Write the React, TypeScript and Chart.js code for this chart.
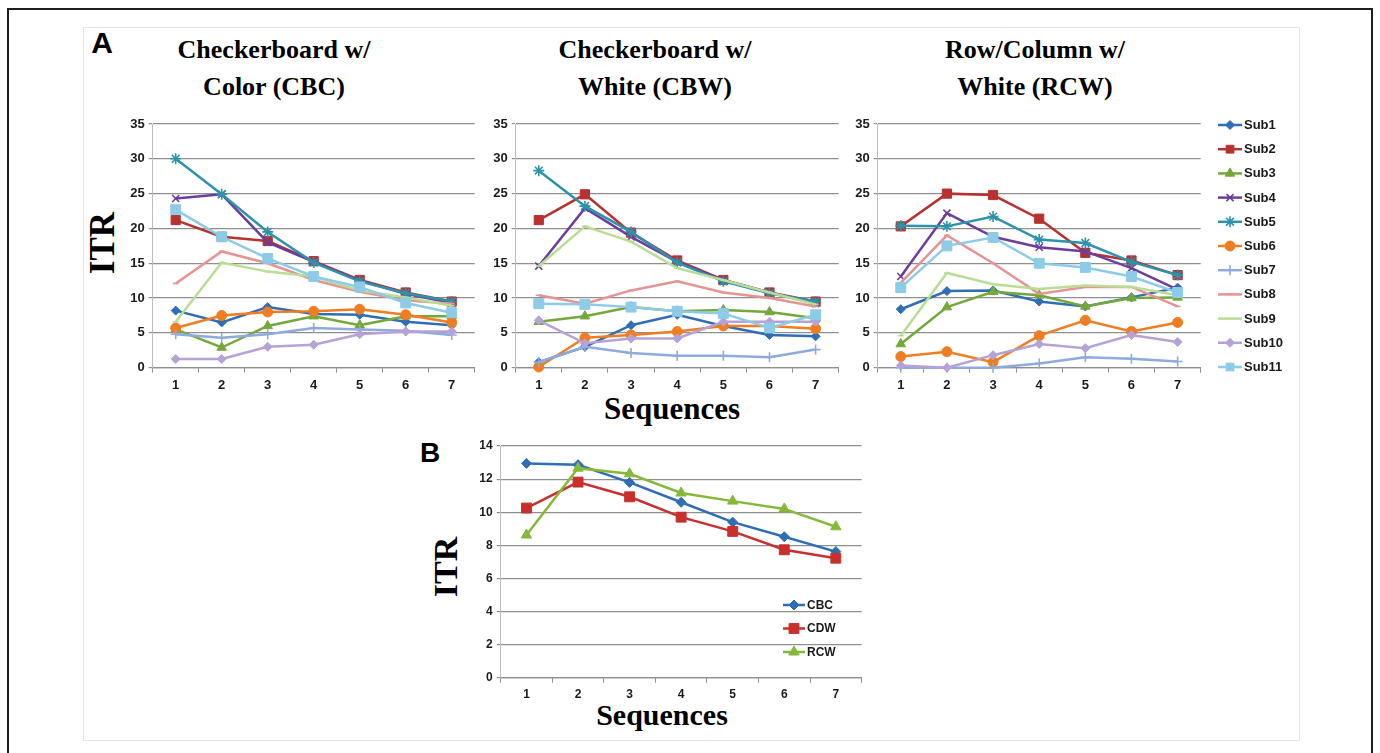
import React, { useEffect, useRef } from 'react';
import { Chart, registerables } from 'chart.js';
import { drawPoint } from 'chart.js/helpers';

Chart.register(...registerables);
Chart.defaults.font.family = "'Liberation Sans', Arial, sans-serif";

// ---------- data ----------
const sequences = ['1', '2', '3', '4', '5', '6', '7'];
const subjects = ['Sub1', 'Sub2', 'Sub3', 'Sub4', 'Sub5', 'Sub6', 'Sub7', 'Sub8', 'Sub9', 'Sub10', 'Sub11'];
const subjectColors = ['#2F6DB5', '#B8312F', '#73A83A', '#6B3E9B', '#2C93AC', '#EF7D22', '#8FAADC', '#E59494', '#B9DD92', '#B6A2D6', '#8DCBE6'];
const subjectMarkers = ['rectRot', 'rect', 'triangle', 'crossRot', 'star', 'circle', 'cross', 'line', 'line', 'rectRot', 'rect'];
const subjectMarkerSizes = [4.5, 6.5, 5.5, 5, 5.5, 5, 5, 3, 3, 4.5, 7];

// ITR per subject (rows Sub1..Sub11), Checkerboard w/ Color
const cbcITR = [
  [8.2, 6.5, 8.7, 7.7, 7.6, 6.6, 6.1],
  [21.2, 18.8, 18.2, 15.3, 12.6, 10.8, 9.5],
  [5.5, 2.9, 6.0, 7.4, 6.1, 7.4, 7.4],
  [24.3, 24.9, 18.0, 15.2, 12.5, 10.6, 9.3],
  [30.0, 24.9, 19.5, 15.1, 12.4, 10.7, 9.5],
  [5.7, 7.5, 8.0, 8.1, 8.4, 7.6, 6.5],
  [4.8, 4.3, 4.8, 5.7, 5.5, 5.3, 4.7],
  [12.1, 16.7, 15.0, 12.6, 10.9, 9.7, 9.2],
  [6.6, 15.1, 13.8, 13.1, 11.1, 10.1, 8.9],
  [1.25, 1.25, 3.0, 3.3, 4.8, 5.2, 5.2],
  [22.7, 18.8, 15.7, 13.1, 11.6, 9.3, 7.9],
];
// Checkerboard w/ White
const cbwITR = [
  [0.8, 3.0, 6.1, 7.6, 6.0, 4.7, 4.5],
  [21.2, 24.9, 19.4, 15.4, 12.6, 10.8, 9.5],
  [6.6, 7.4, 8.7, 8.1, 8.3, 8.0, 7.1],
  [14.6, 22.9, 18.8, 15.2, 12.6, 10.8, 9.2],
  [28.3, 23.2, 19.5, 15.1, 12.4, 10.7, 9.5],
  [0.1, 4.3, 4.7, 5.2, 6.0, 6.0, 5.6],
  [0.8, 3.0, 2.1, 1.7, 1.7, 1.5, 2.6],
  [10.4, 9.2, 11.1, 12.4, 10.8, 10.0, 8.8],
  [14.6, 20.3, 18.1, 14.3, 12.6, 10.8, 9.1],
  [6.8, 3.5, 4.2, 4.2, 6.6, 6.6, 6.6],
  [9.2, 9.1, 8.7, 8.1, 7.8, 5.7, 7.6],
];
// Row/Column w/ White
const rcwITR = [
  [8.4, 11.0, 11.1, 9.5, 8.8, 10.1, 11.5],
  [20.3, 25.0, 24.8, 21.4, 16.5, 15.4, 13.3],
  [3.4, 8.7, 10.9, 10.4, 8.8, 10.0, 10.1],
  [13.1, 22.2, 18.8, 17.3, 16.7, 14.3, 11.2],
  [20.4, 20.3, 21.7, 18.4, 17.9, 15.2, 13.3],
  [1.6, 2.3, 0.8, 4.6, 6.8, 5.2, 6.5],
  [0, 0, 0, 0.6, 1.5, 1.3, 0.9],
  [12.2, 19.0, 15.0, 10.6, 11.6, 11.6, 8.8],
  [4.6, 13.6, 12.0, 11.3, 11.8, 11.6, 10.4],
  [0.3, 0, 1.8, 3.4, 2.8, 4.7, 3.7],
  [11.5, 17.5, 18.7, 15.0, 14.4, 13.1, 10.8],
];

// Panel B averages
const averageLabels = ['CBC', 'CDW', 'RCW'];
const averageColors = ['#2F6DB5', '#C8302E', '#86B83A'];
const averageMarkers = ['rectRot', 'rect', 'triangle'];
const averageMarkerSizes = [5, 7, 6];
const cbcAverage = [12.95, 12.87, 11.8, 10.6, 9.4, 8.52, 7.62];
const cdwAverage = [10.25, 11.82, 10.93, 9.7, 8.84, 7.73, 7.22];
const rcwAverage = [8.62, 12.66, 12.32, 11.16, 10.67, 10.2, 9.12];

const panelAYTicks = { max: 35, step: 5 };
const panelBYTicks = { max: 14, step: 2 };

// ---------- helpers ----------
const GRID = '#8f8f8f';
const TICK_COLOR = '#1a1a1a';

const legendPlugin = {
  id: 'sideLegend',
  afterDraw(chart: any, _args: any, opts: any) {
    if (!opts || !opts.show) return;
    const ctx = chart.ctx;
    ctx.save();
    chart.data.datasets.forEach((ds: any, i: number) => {
      const y = opts.y + i * opts.dy;
      ctx.strokeStyle = ds.borderColor;
      ctx.fillStyle = ds.borderColor;
      ctx.lineWidth = ds.borderWidth;
      ctx.beginPath();
      ctx.moveTo(opts.x, y);
      ctx.lineTo(opts.x + opts.len, y);
      ctx.stroke();
      ctx.lineWidth = ds.pointBorderWidth || 1;
      const r = Math.min(ds.pointRadius, opts.maxMarker || 99);
      drawPoint(ctx, { pointStyle: ds.pointStyle, radius: r, borderWidth: ds.pointBorderWidth || 1, rotation: 0 } as any, opts.x + opts.len / 2, y);
      ctx.fillStyle = TICK_COLOR;
      ctx.font = `bold ${opts.fontSize}px 'Liberation Sans', Arial, sans-serif`;
      ctx.textBaseline = 'middle';
      ctx.textAlign = 'left';
      ctx.fillText(ds.label, opts.x + opts.len + 2, y + 0.5);
    });
    ctx.restore();
  },
};

function makeDatasets(rows: number[][], labels: string[], colors: string[], markers: string[], sizes: number[]) {
  const n = rows.length;
  return rows.map((row, i) => ({
    label: labels[i],
    data: row,
    borderColor: colors[i],
    backgroundColor: colors[i],
    borderWidth: 2.5,
    pointStyle: markers[i],
    pointRadius: sizes[i],
    pointHoverRadius: sizes[i],
    pointBackgroundColor: colors[i],
    pointBorderColor: colors[i],
    pointBorderWidth: markers[i] === 'cross' || markers[i] === 'crossRot' || markers[i] === 'star' || markers[i] === 'line' ? 1.6 : 1,
    tension: 0,
    clip: false as any,
    order: n - i,
  }));
}

type PanelProps = {
  left: number; top: number; width: number; height: number;
  area: { left: number; top: number; right: number; bottom: number };
  datasets: any[];
  yMax: number; yStep: number;
  tickSize: number;
  legend?: { x: number; y: number; dy: number; len: number; fontSize: number; maxMarker?: number };
};

function Panel(p: PanelProps) {
  const ref = useRef<HTMLCanvasElement>(null);
  useEffect(() => {
    if (!ref.current) return;
    const tickFont = { size: p.tickSize, weight: 'bold' as const, family: "'Liberation Sans', Arial, sans-serif" };
    const chart = new Chart(ref.current, {
      type: 'line',
      data: { labels: sequences, datasets: p.datasets },
      plugins: [legendPlugin],
      options: {
        responsive: false,
        animation: false,
        events: [],
        layout: { padding: { left: 0, top: p.area.top, right: p.width - p.area.right, bottom: 0 } },
        plugins: {
          legend: { display: false },
          tooltip: { enabled: false },
          title: { display: false },
          sideLegend: p.legend ? { show: true, ...p.legend } : { show: false },
        } as any,
        scales: {
          x: {
            type: 'category',
            offset: true,
            grid: { display: true, drawOnChartArea: false, drawTicks: true, tickLength: 5, offset: true, color: GRID, lineWidth: 1 },
            border: { display: true, color: GRID, width: 1.2 },
            ticks: { font: tickFont, color: TICK_COLOR, padding: 5, maxRotation: 0, autoSkip: false },
            afterFit: (s: any) => { s.height = p.height - p.area.bottom; },
          },
          y: {
            min: 0,
            max: p.yMax,
            grid: { color: GRID, lineWidth: 1.2, drawTicks: true, tickLength: 4 },
            border: { display: true, color: '#bdbdbd', width: 1 },
            ticks: { stepSize: p.yStep, font: tickFont, color: TICK_COLOR, padding: 4 },
            afterFit: (s: any) => { s.width = p.area.left; },
          },
        },
      } as any,
    });
    return () => chart.destroy();
  }, []);
  return (
    <canvas
      ref={ref}
      width={p.width}
      height={p.height}
      style={{ position: 'absolute', left: p.left, top: p.top, width: p.width, height: p.height }}
    />
  );
}

const serif = "'Liberation Serif', 'Times New Roman', serif";
const sans = "'Liberation Sans', Arial, sans-serif";

function Txt(props: { x: number; y: number; size: number; family: string; rotate?: boolean; children: React.ReactNode }) {
  return (
    <div
      style={{
        position: 'absolute',
        left: props.x,
        top: props.y,
        transform: `translate(-50%, -50%)${props.rotate ? ' rotate(-90deg)' : ''}`,
        fontFamily: props.family,
        fontWeight: 'bold',
        fontSize: props.size,
        lineHeight: 1,
        whiteSpace: 'nowrap',
        color: '#000',
      }}
    >
      {props.children}
    </div>
  );
}

export default function App() {
  useEffect(() => {
    document.body.style.overflow = 'hidden';
  }, []);

  const dsCBC = makeDatasets(cbcITR, subjects, subjectColors, subjectMarkers, subjectMarkerSizes);
  const dsCBW = makeDatasets(cbwITR, subjects, subjectColors, subjectMarkers, subjectMarkerSizes);
  const dsRCW = makeDatasets(rcwITR, subjects, subjectColors, subjectMarkers, subjectMarkerSizes);
  const dsAvg = makeDatasets([cbcAverage, cdwAverage, rcwAverage], averageLabels, averageColors, averageMarkers, averageMarkerSizes);

  const areaA = (right: number) => ({ left: 52.7, top: 12, right, bottom: 255.7 });

  return (
    <div style={{ position: 'absolute', left: 0, top: 0, width: 1380, height: 753, overflow: 'hidden', background: '#fff' }}>
      {/* outer frame */}
      <div style={{ position: 'absolute', left: 7, top: 8, width: 1366, height: 760, border: '2px solid #1e1e1e', boxSizing: 'border-box' }} />
      {/* inner panel frame */}
      <div style={{ position: 'absolute', left: 83, top: 27, width: 1217, height: 714, border: '1px solid #e4e4e4', boxSizing: 'border-box' }} />

      <Txt x={102} y={42.5} size={30} family={sans}>A</Txt>
      <Txt x={430} y={453} size={28} family={sans}>B</Txt>

      <Txt x={274} y={50} size={26} family={serif}>Checkerboard w/</Txt>
      <Txt x={274} y={87} size={26} family={serif}>Color (CBC)</Txt>
      <Txt x={655} y={50} size={26} family={serif}>Checkerboard w/</Txt>
      <Txt x={655} y={87} size={26} family={serif}>White (CBW)</Txt>
      <Txt x={1035} y={50} size={26} family={serif}>Row/Column w/</Txt>
      <Txt x={1035} y={87} size={26} family={serif}>White (RCW)</Txt>

      <Txt x={101.5} y={242.5} size={35} family={serif} rotate>ITR</Txt>
      <Txt x={672} y={408} size={31} family={serif}>Sequences</Txt>
      <Txt x={446} y={567} size={34} family={serif} rotate>ITR</Txt>
      <Txt x={662} y={714.5} size={30} family={serif}>Sequences</Txt>

      <Panel left={100} top={112} width={390} height={290} area={areaA(374.7)} datasets={dsCBC}
        yMax={panelAYTicks.max} yStep={panelAYTicks.step} tickSize={13} />
      <Panel left={463} top={112} width={390} height={290} area={areaA(375.7)} datasets={dsCBW}
        yMax={panelAYTicks.max} yStep={panelAYTicks.step} tickSize={13} />
      <Panel left={825} top={112} width={470} height={290} area={areaA(375.7)} datasets={dsRCW}
        yMax={panelAYTicks.max} yStep={panelAYTicks.step} tickSize={13}
        legend={{ x: 393, y: 13, dy: 24.2, len: 24, fontSize: 13, maxMarker: 5.5 }} />
      <Panel left={440} top={434} width={440} height={290}
        area={{ left: 60.7, top: 12, right: 421.6, bottom: 243.7 }} datasets={dsAvg}
        yMax={panelBYTicks.max} yStep={panelBYTicks.step} tickSize={12}
        legend={{ x: 343, y: 171, dy: 23.5, len: 22, fontSize: 12 }} />
    </div>
  );
}
